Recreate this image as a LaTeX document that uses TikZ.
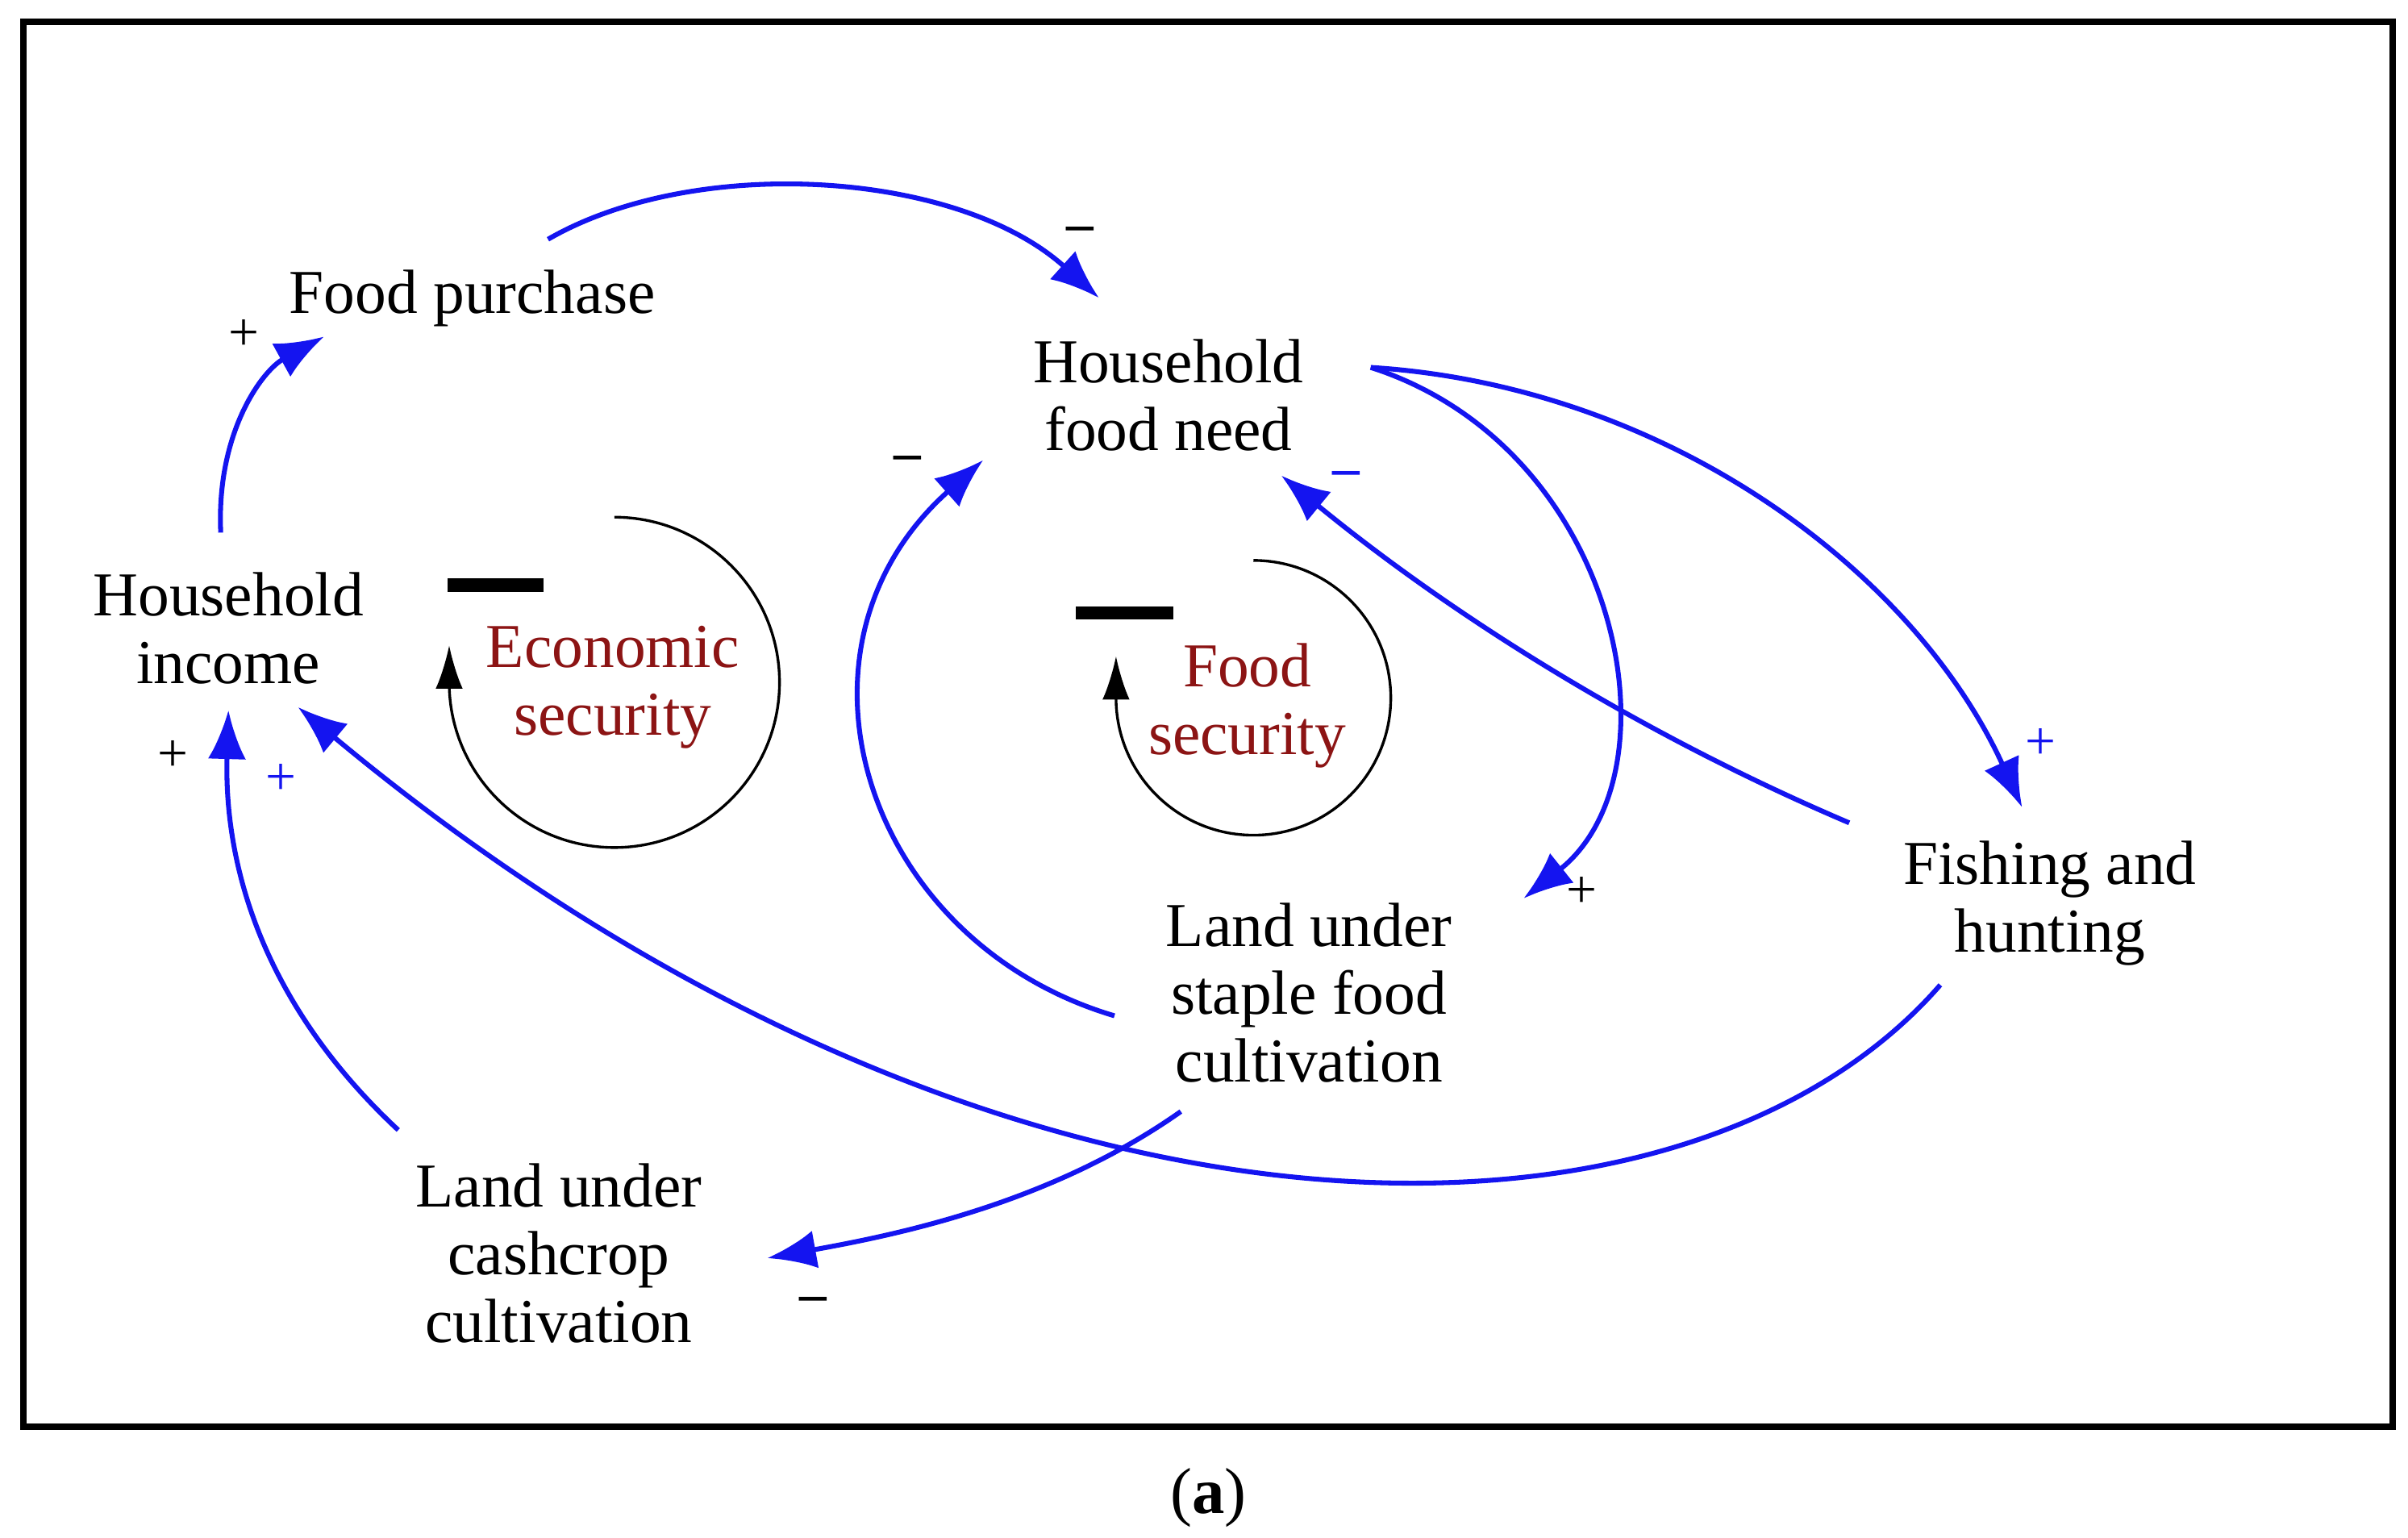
\documentclass[tikz,border=0pt]{standalone}
\usepackage{fontspec}
\setmainfont{Liberation Serif}
\usetikzlibrary{arrows.meta}
\definecolor{loopred}{RGB}{140,20,20}
\definecolor{linkblue}{RGB}{20,20,240}
\begin{document}
\begin{tikzpicture}[x=0.01cm,y=-0.01cm,
  var/.style={align=center,font=\fontsize{11.5}{12.5}\selectfont},
  looplabel/.style={var,text=loopred},
  link/.style={draw=linkblue,line width=0.9pt,-{Latex[length=9pt,width=7pt]}},
  loop/.style={draw=black,line width=0.5pt,-{Latex[length=8pt,width=5pt]}},
  sign/.style={font=\fontsize{10}{10}\selectfont}]
\useasboundingbox (0,0) rectangle (1560,996);
\draw[line width=1.2pt] (15,14) rectangle (1550,924);

% variables
\node[var] (purchase) at (306,193) {Food purchase};
\node[var] (need) at (757,256) {Household\\food need};
\node[var] (income) at (148,407) {Household\\income};
\node[var] (fishing) at (1328,585) {Fishing and\\hunting};
\node[var] (staple) at (848,643) {Land under\\staple food\\cultivation};
\node[var] (cash) at (362,812) {Land under\\cashcrop\\cultivation};
\node[looplabel] (econ) at (397,445) {Economic\\security};
\node[looplabel] (foodsec) at (808,457) {Food\\security};
\node[font=\fontsize{12}{12}\selectfont] (cap) at (783,970) {(\textbf{a})};

% connector ends
\coordinate (incA) at (143,345); \coordinate (purA) at (210,218);
\coordinate (purB) at (355,155); \coordinate (needA) at (712,193);
\coordinate (needB) at (888,238); \coordinate (staA) at (987,582);
\coordinate (fisA) at (1310,523); \coordinate (fisB) at (1198,533);
\coordinate (needC) at (830,308); \coordinate (staB) at (722,658);
\coordinate (needD) at (637,298); \coordinate (staC) at (765,720);
\coordinate (casA) at (497,815); \coordinate (casB) at (258,732);
\coordinate (incB) at (148,460); \coordinate (fisC) at (1257,638);
\coordinate (incC) at (193,458);

% links
\draw[link] (incA) .. controls (140,280) and (170,240) .. (purA);
\draw[link] (purB) .. controls (450,100) and (620,110) .. (needA);
\draw[link] (needB) .. controls (1050,290) and (1090,500) .. (staA);
\draw[link] (needB) .. controls (1080,250) and (1240,370) .. (fisA);
\draw[link] (fisB) .. controls (1050,470) and (930,390) .. (needC);
\draw[link] (staB) .. controls (560,610) and (500,420) .. (needD);
\draw[link] (staC) .. controls (680,780) and (580,800) .. (casA);
\draw[link] (casB) .. controls (170,650) and (145,560) .. (incB);
\draw[link] (fisC) .. controls (1090,830) and (640,830) .. (incC);

% polarities
\node[sign] at (158,217) {+};
\node[sign] at (700,152) {\textbf{--}};
\node[sign] at (1025,578) {+};
\node[sign,text=linkblue] at (1322,482) {+};
\node[sign,text=linkblue] at (872,310) {\textbf{--}};
\node[sign] at (588,300) {\textbf{--}};
\node[sign] at (527,845) {\textbf{--}};
\node[sign,text=linkblue] at (182,505) {+};
\node[sign] at (112,490) {+};

% loops
\draw[loop] (398,335) arc[start angle=-90,end angle=180,radius=107] -- (291,418);
\draw[line width=2.5pt] (290,379) -- (352,379);
\draw[loop] (812,363) arc[start angle=-90,end angle=180,radius=89] -- (723,425);
\draw[line width=2.5pt] (697,397) -- (760,397);
\end{tikzpicture}
\end{document}
